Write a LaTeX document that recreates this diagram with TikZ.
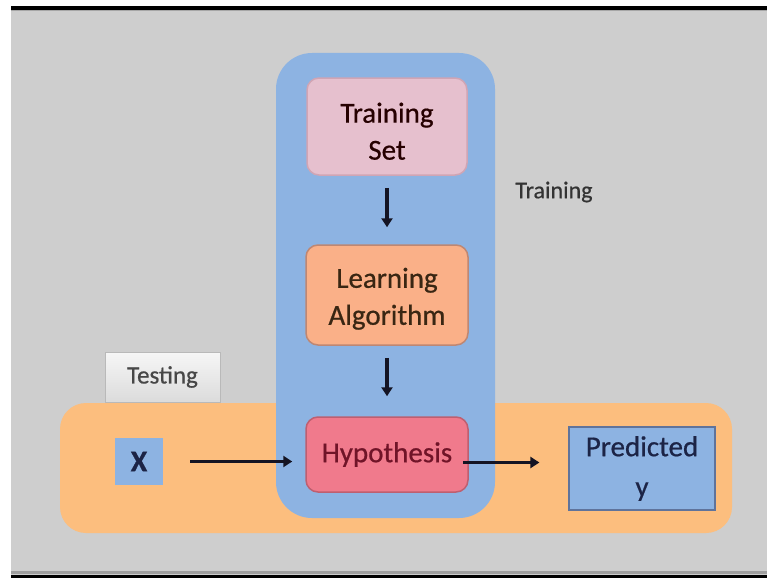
\documentclass[tikz,border=0pt]{standalone}
\usepackage{fontspec}
\setmainfont{Carlito}[FakeBold=0.6]
\usetikzlibrary{arrows.meta,shadows}
\definecolor{bggray}{RGB}{206,206,206}
\definecolor{orangebg}{RGB}{252,190,126}
\definecolor{bluebg}{RGB}{141,179,226}
\definecolor{pinkfill}{RGB}{230,192,206}
\definecolor{pinkline}{RGB}{208,165,180}
\definecolor{salmfill}{RGB}{250,176,136}
\definecolor{salmline}{RGB}{190,135,115}
\definecolor{hypfill}{RGB}{240,122,140}
\definecolor{hypline}{RGB}{190,95,112}
\definecolor{predline}{RGB}{95,115,155}
\definecolor{navytext}{RGB}{28,36,70}
\definecolor{arrowc}{RGB}{20,20,35}
\tikzset{
  stagebox/.style={rounded corners=12pt, line width=1.5pt, align=center,
    font=\fontsize{29}{37}\selectfont, inner sep=0pt},
  flow/.style={draw=arrowc, line width=3.3pt, -{Triangle[length=9pt,width=11pt]}},
}
\begin{document}
\begin{tikzpicture}[x=1pt,y=-1pt]
\useasboundingbox (0,0) rectangle (767,578);
% background frame
\fill[white] (0,0) rectangle (767,578);
\fill[black] (11,6) rectangle (767,10);
\fill[bggray] (11,10) rectangle (767,575);
\fill[gray!70] (11,10) rectangle (767,11.5);
\fill[gray!75] (11,571) rectangle (767,574);
\fill[black] (11,574.5) rectangle (767,578);
% testing band and training column
\fill[orangebg, rounded corners=26pt] (60,403) rectangle (732,533);
\fill[bluebg, rounded corners=36pt] (276,53) rectangle (495,518);
% testing tab
\node[draw=gray!55, line width=0.6pt, top color=white!93!gray, bottom color=gray!28,
  minimum width=115pt, minimum height=50pt, inner sep=0pt,
  font=\fontsize{25}{30}\selectfont, text=black!72] (testing) at (162.5,377) {Testing};
% nodes
\node[stagebox, fill=pinkfill, draw=pinkline, text=black!75!red!60!black,
  minimum width=160pt, minimum height=97pt] (tset) at (387,126.5) {\raisebox{-11pt}[0pt][0pt]{\parbox{150pt}{\centering Training\\Set}}};
\node[stagebox, fill=salmfill, draw=salmline, text=black!70!brown,
  minimum width=162pt, minimum height=100pt] (lalg) at (387,295) {\raisebox{-10pt}[0pt][0pt]{\parbox{150pt}{\centering Learning\\Algorithm}}};
\node[stagebox, fill=hypfill, draw=hypline, text={rgb,255:red,112;green,20;blue,40},
  minimum width=162pt, minimum height=75pt] (hyp) at (387,454.5) {Hypothesis};
\node[fill=bluebg, minimum width=48pt, minimum height=47pt, inner sep=0pt,
  font=\fontsize{30}{36}\selectfont\bfseries, text=navytext] (xbox) at (139,461.5) {X};
\node[fill=bluebg, draw=predline, line width=1.2pt, minimum width=146pt, minimum height=83pt,
  inner sep=0pt, align=center, font=\fontsize{29}{40}\selectfont, text=navytext]
  (pred) at (642,468.5) {Predicted\\y};
\node[font=\fontsize{24}{28}\selectfont, text=black!80] (trlabel) at (554,192) {Training};
% connectors
\draw[flow, shorten <=12pt, shorten >=17pt] (tset.south) -- (lalg.north);
\draw[flow, shorten <=12pt, shorten >=20pt] (lalg.south) -- (hyp.north);
\draw[flow, shorten <=27pt, shorten >=13pt] (xbox.east) -- (xbox.east -| hyp.west);
\draw[flow, shorten <=-6pt, shorten >=29pt] ([yshift=-8pt]hyp.east) -- ([yshift=-8pt]hyp.east -| pred.west);
\end{tikzpicture}
\end{document}
